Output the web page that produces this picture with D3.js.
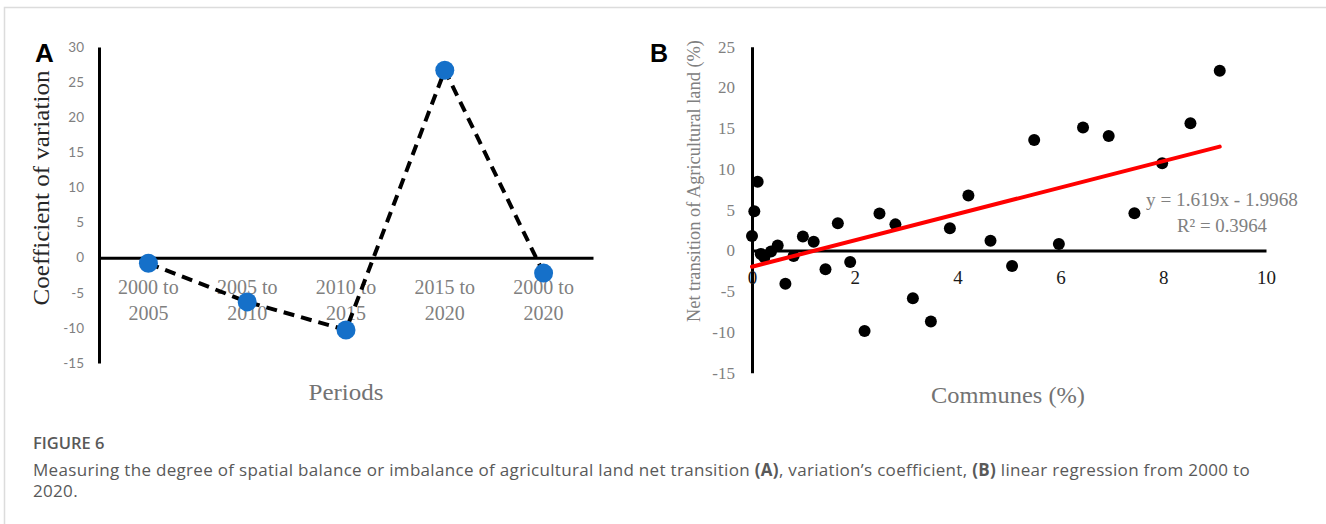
<!DOCTYPE html>
<html>
<head>
<meta charset="utf-8">
<script src="https://cdn.jsdelivr.net/npm/d3@7"></script>
<style>
  html, body { margin: 0; padding: 0; background: #fff; }
  svg { display: block; }
</style>
</head>
<body>
<svg id="fig" width="1326" height="524"></svg>
<script>
// Panel A: coefficient of variation per period
const periods = ["2000 to 2005", "2005 to 2010", "2010 to 2015", "2015 to 2020", "2000 to 2020"];
const cvValues = [-0.8, -6.3, -10.3, 26.7, -2.2];
const cvTicks = [-15, -10, -5, 0, 5, 10, 15, 20, 25, 30];

// Panel B: communes share vs. net transition of agricultural land
const communesPct = [0.0, 0.045, 0.11, 0.17, 0.24, 0.37, 0.5, 0.65, 0.81, 0.99, 1.2, 1.43, 1.67, 1.91, 2.19, 2.48,
  2.79, 3.13, 3.48, 3.85, 4.21, 4.64, 5.06, 5.49, 5.97, 6.44, 6.94, 7.44, 7.98, 8.53, 9.1];
const netTransition = [1.78, 4.8, 8.44, -0.43, -0.84, -0.14, 0.6, -4.1, -0.67, 1.7, 1.08, -2.3, 3.33, -1.41, -9.88, 4.52,
  3.2, -5.87, -8.73, 2.72, 6.73, 1.2, -1.9, 13.56, 0.8, 15.1, 14.05, 4.56, 10.7, 15.6, 22.06];
const netTicks = [-15, -10, -5, 0, 5, 10, 15, 20, 25];
const communeTicks = [0, 2, 4, 6, 8, 10];
const trendSlope = 1.619;
const trendIntercept = -1.9968;
const trendR2 = 0.3964;
const trendRange = [0, 9.1];

const svg = d3.select("#fig");
const serif = "'Liberation Serif', 'Times New Roman', serif";
const sans = "Lato, 'Open Sans', sans-serif";
const plain = d => String(d);   // hyphen-minus, as in the spreadsheet output

// page frame
svg.append("path")
  .attr("d", "M4.5,524 V7.5 H1326")
  .attr("fill", "none").attr("stroke", "#dcdcdc").attr("stroke-width", 1.5);

/* ---------------- Panel A ---------------- */
const xA = d3.scaleBand().domain(periods).range([99, 593]);
const yA = d3.scaleLinear().domain([-15, 30]).range([363, 47]);

const gA = svg.append("g");

const axYA = gA.append("g").attr("transform", "translate(99,0)")
  .call(d3.axisLeft(yA).tickValues(cvTicks).tickFormat(plain).tickSize(0).tickSizeOuter(0).tickPadding(15));
axYA.select(".domain").attr("stroke", "#000").attr("stroke-width", 3);
axYA.selectAll("text").attr("font-family", sans).attr("font-size", 13.5).attr("fill", "#7f7f7f");

const axXA = gA.append("g").attr("transform", `translate(0,${yA(0)})`)
  .call(d3.axisBottom(xA).tickSize(0).tickSizeOuter(0));
axXA.select(".domain").attr("stroke", "#000").attr("stroke-width", 3);
axXA.selectAll("text").each(function(d) {
  const t = d3.select(this).text(null).attr("y", 0).attr("dy", null)
    .attr("font-family", serif).attr("font-size", 20).attr("fill", "#808080");
  const parts = d.split(" to ");
  t.append("tspan").attr("x", 0).attr("y", 36).text(parts[0] + " to");
  t.append("tspan").attr("x", 0).attr("y", 62).text(parts[1]);
});

const cxA = d => xA(d) + xA.bandwidth() / 2;
gA.append("path")
  .datum(periods.map((p, i) => [cxA(p), yA(cvValues[i])]))
  .attr("d", d3.line())
  .attr("fill", "none").attr("stroke", "#000").attr("stroke-width", 4)
  .attr("stroke-dasharray", "11,7");

gA.selectAll("circle").data(periods).join("circle")
  .attr("cx", d => cxA(d)).attr("cy", (d, i) => yA(cvValues[i]))
  .attr("r", 9.5).attr("fill", "#1570c9");

gA.append("text")
  .attr("transform", "translate(49,188) rotate(-90)")
  .attr("text-anchor", "middle")
  .attr("font-family", serif).attr("font-size", 23).attr("fill", "#262626")
  .attr("textLength", 235).attr("lengthAdjust", "spacingAndGlyphs")
  .text("Coefficient of variation");

gA.append("text")
  .attr("x", 346).attr("y", 400).attr("text-anchor", "middle")
  .attr("font-family", serif).attr("font-size", 23).attr("fill", "#737373")
  .attr("textLength", 75).attr("lengthAdjust", "spacingAndGlyphs")
  .text("Periods");

gA.append("text")
  .attr("x", 35).attr("y", 62)
  .attr("font-family", "Liberation Sans, Arial, sans-serif").attr("font-weight", "bold")
  .attr("font-size", 26).attr("fill", "#000").text("A");

/* ---------------- Panel B ---------------- */
const xB = d3.scaleLinear().domain([0, 10]).range([752, 1266]);
const yB = d3.scaleLinear().domain([-15, 25]).range([372.7, 46.7]);
const gB = svg.append("g");

const axYB = gB.append("g").attr("transform", "translate(752,0)")
  .call(d3.axisLeft(yB).tickValues(netTicks).tickFormat(plain).tickSize(0).tickSizeOuter(0).tickPadding(17));
axYB.select(".domain").attr("stroke", "#000").attr("stroke-width", 3);
axYB.selectAll("text").attr("font-family", serif).attr("font-size", 17).attr("fill", "#808080");

const axXB = gB.append("g").attr("transform", `translate(0,${yB(0)})`)
  .call(d3.axisBottom(xB).tickValues(communeTicks).tickFormat(plain).tickSize(0).tickSizeOuter(0).tickPadding(20));
axXB.select(".domain").attr("stroke", "#000").attr("stroke-width", 3);
axXB.selectAll("text").attr("font-family", serif).attr("font-size", 19).attr("fill", "#1a1a1a");

gB.selectAll("circle").data(communesPct).join("circle")
  .attr("cx", d => xB(d)).attr("cy", (d, i) => yB(netTransition[i]))
  .attr("r", 6).attr("fill", "#000");

gB.append("line")
  .attr("x1", xB(trendRange[0])).attr("y1", yB(trendSlope * trendRange[0] + trendIntercept))
  .attr("x2", xB(trendRange[1])).attr("y2", yB(trendSlope * trendRange[1] + trendIntercept))
  .attr("stroke", "#ff0000").attr("stroke-width", 4).attr("stroke-linecap", "round");

const eq = gB.append("g").attr("text-anchor", "end")
  .attr("font-family", serif).attr("font-size", 19).attr("fill", "#808080");
eq.append("text").attr("x", 1298).attr("y", 206)
  .attr("textLength", 152).attr("lengthAdjust", "spacingAndGlyphs")
  .text(`y = ${trendSlope}x - ${Math.abs(trendIntercept)}`);
eq.append("text").attr("x", 1267).attr("y", 232)
  .attr("textLength", 90).attr("lengthAdjust", "spacingAndGlyphs")
  .text(`R² = ${trendR2}`);

gB.append("text")
  .attr("transform", "translate(700,181) rotate(-90)")
  .attr("text-anchor", "middle")
  .attr("font-family", serif).attr("font-size", 18).attr("fill", "#808080")
  .attr("textLength", 282).attr("lengthAdjust", "spacingAndGlyphs")
  .text("Net transition of Agricultural land (%)");

gB.append("text")
  .attr("x", 1008).attr("y", 403).attr("text-anchor", "middle")
  .attr("font-family", serif).attr("font-size", 23).attr("fill", "#737373")
  .attr("textLength", 154).attr("lengthAdjust", "spacingAndGlyphs")
  .text("Communes (%)");

gB.append("text")
  .attr("x", 650).attr("y", 62)
  .attr("font-family", "Liberation Sans, Arial, sans-serif").attr("font-weight", "bold")
  .attr("font-size", 25).attr("fill", "#000").text("B");

/* ---------------- Caption ---------------- */
const cap = svg.append("g").attr("font-family", "'Open Sans', sans-serif").attr("fill", "#595959");
cap.append("text").attr("x", 33).attr("y", 449)
  .attr("font-size", 16.5).attr("font-weight", 600).text("FIGURE 6");
const l1 = cap.append("text").attr("x", 33).attr("y", 476).attr("font-size", 17);
l1.append("tspan").text("Measuring the degree of spatial balance or imbalance of agricultural land net transition ");
l1.append("tspan").attr("font-weight", "bold").text("(A)");
l1.append("tspan").text(", variation’s coefficient, ");
l1.append("tspan").attr("font-weight", "bold").text("(B)");
l1.append("tspan").text(" linear regression from 2000 to");
// stretch the first caption line to the column width
const capWidth = 1217;
const w = l1.node().getComputedTextLength();
const n = l1.text().length;
const spacing = Math.max(0, (capWidth - w) / n);
l1.attr("letter-spacing", spacing);
cap.append("text").attr("x", 33).attr("y", 497).attr("font-size", 17)
  .attr("letter-spacing", spacing).text("2020.");
</script>
</body>
</html>
